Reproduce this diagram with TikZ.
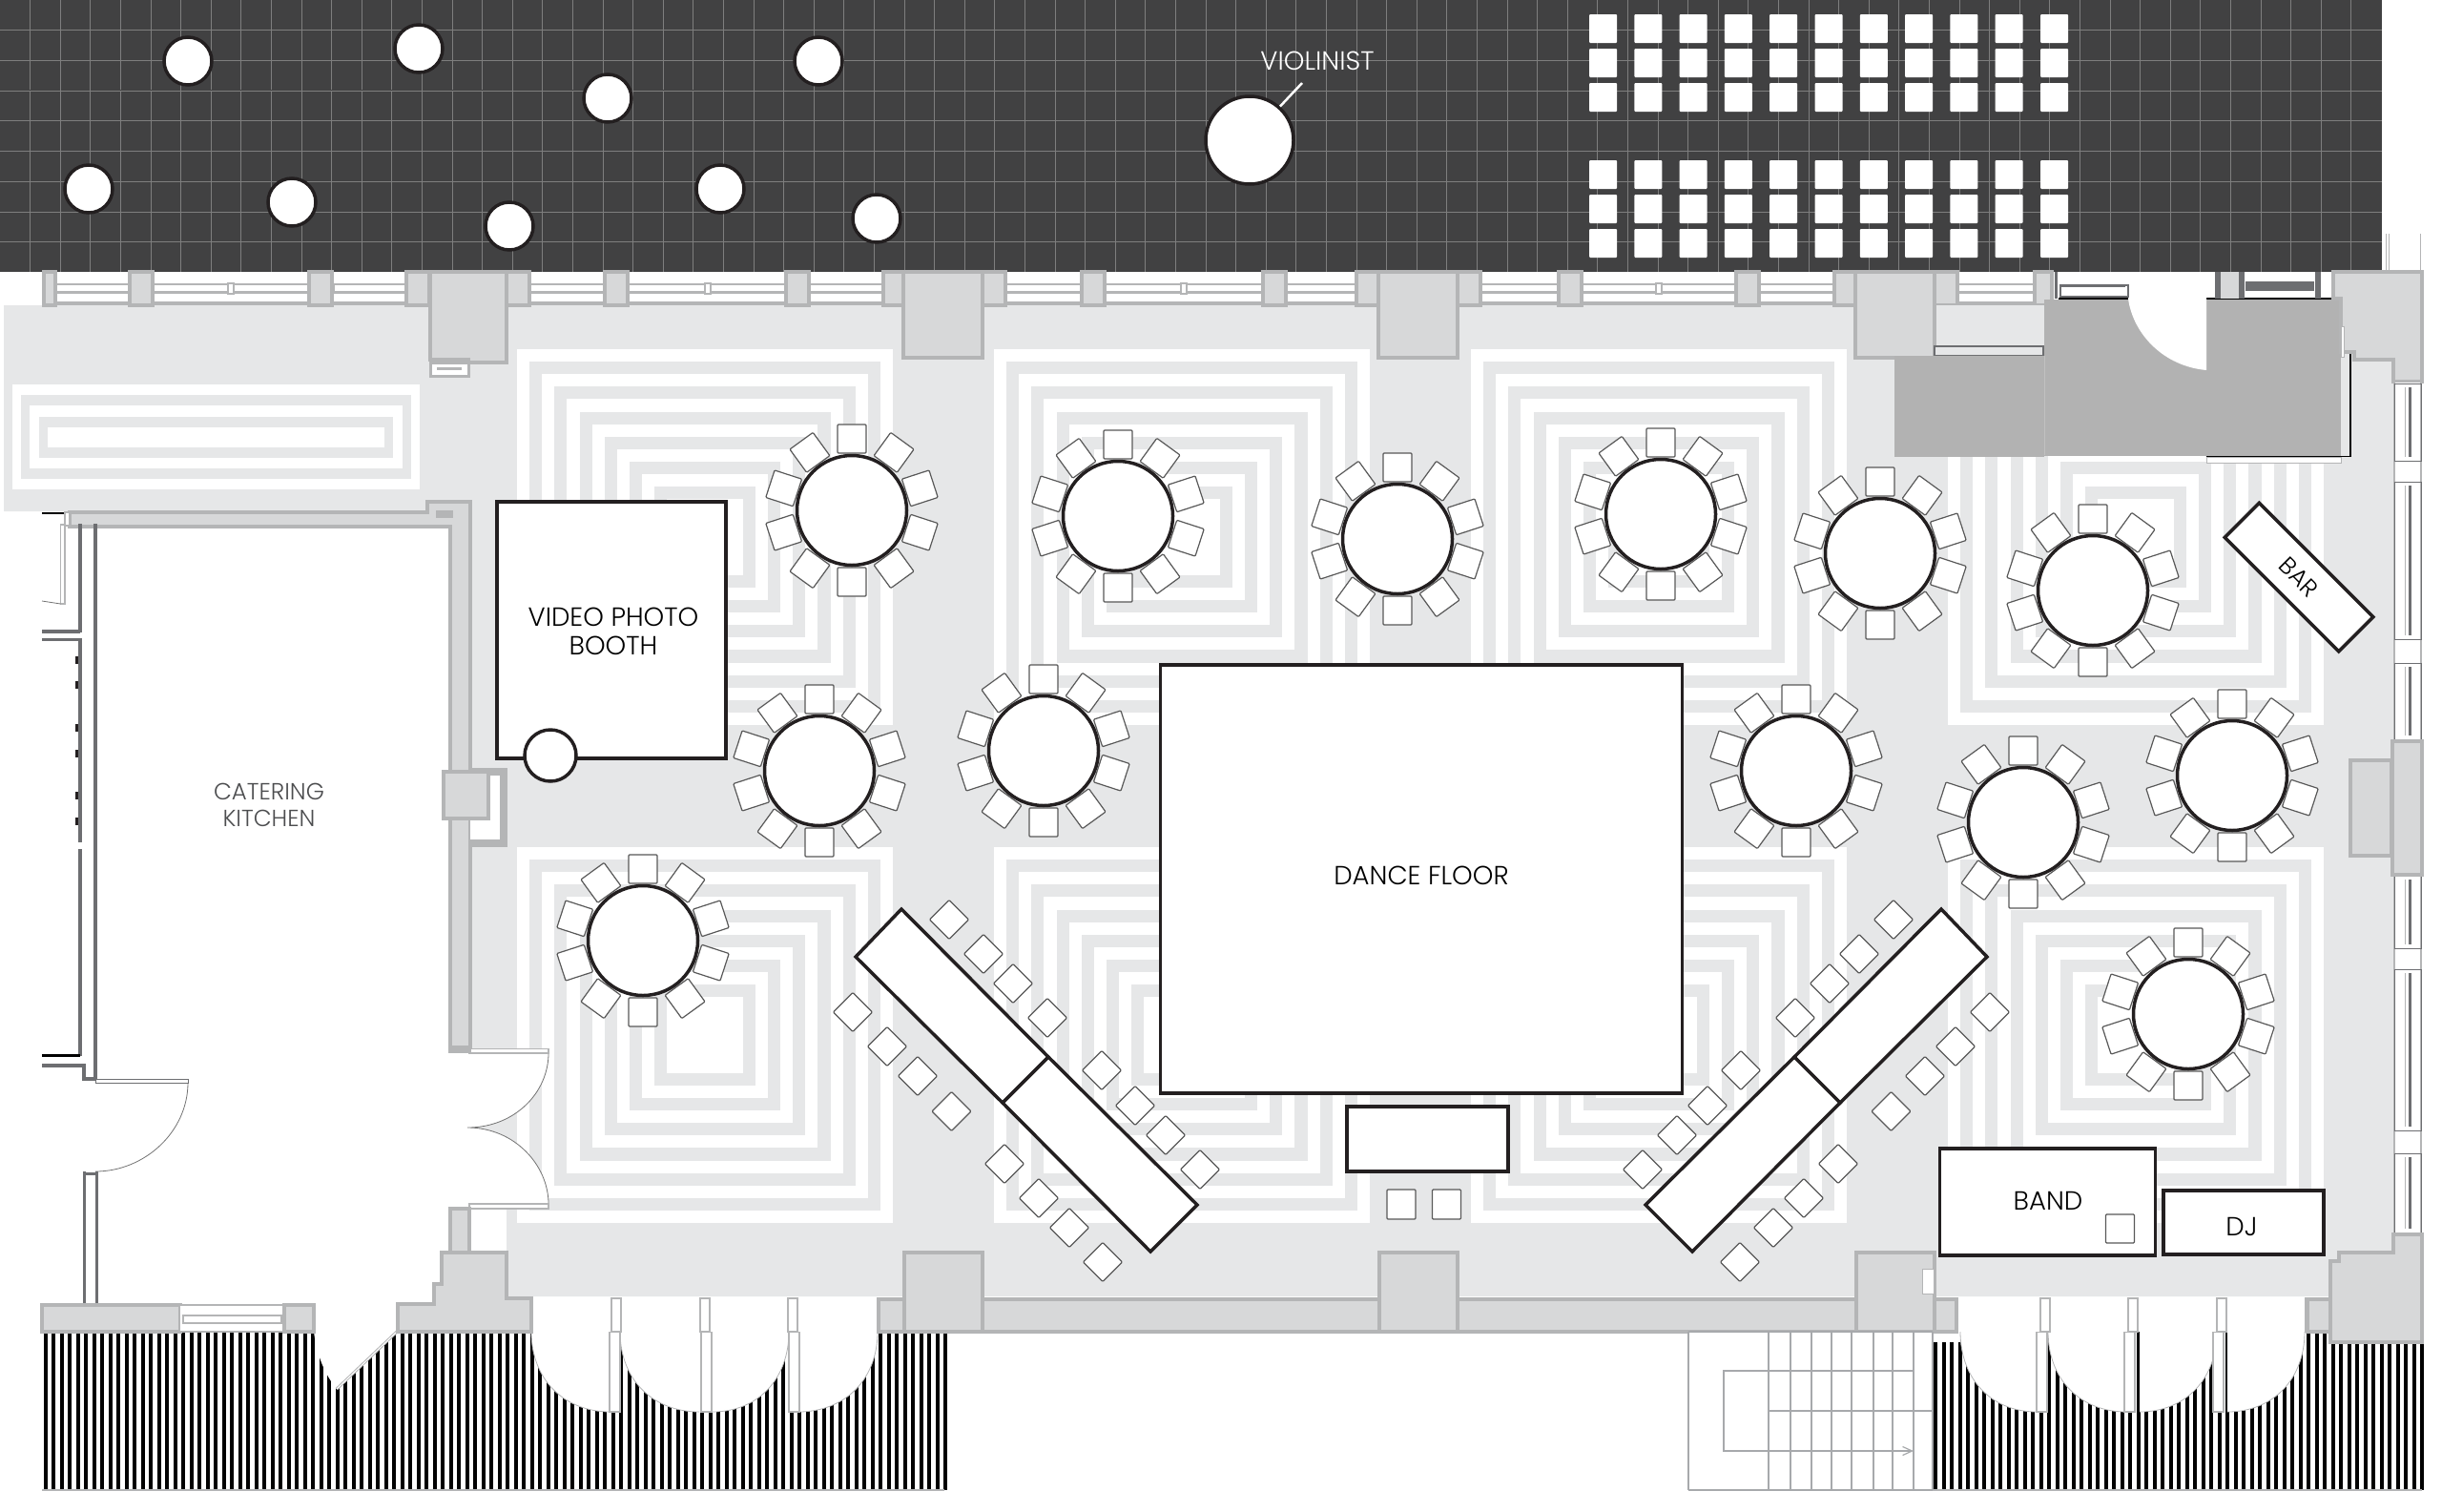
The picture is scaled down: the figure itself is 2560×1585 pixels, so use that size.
\documentclass[tikz,border=0pt]{standalone}
\usepackage{fontspec}
\setmainfont{Poppins}
\newfontfamily\lightfont{Poppins Light}
\usetikzlibrary{arrows.meta}
\definecolor{inkdark}{HTML}{231F20}
\definecolor{bandgray}{HTML}{414142}
\definecolor{gridgray}{HTML}{7E7E7E}
\definecolor{floorgray}{HTML}{E6E7E8}
\definecolor{wallfill}{HTML}{D7D8D9}
\definecolor{wallline}{HTML}{B4B5B6}
\definecolor{stagegray}{HTML}{B2B2B2}
\definecolor{thinwall}{HTML}{6D6E71}
\definecolor{stairline}{HTML}{A7A9AC}
\tikzstyle{wallbox} = [fill=wallfill,draw=wallline,line width=3.5pt,line join=miter]
\tikzstyle{thinbar} = [draw=thinwall,line width=3.5pt]
\tikzstyle{glass} = [draw=wallline,line width=2.2pt]
\tikzstyle{gridline} = [draw=gridgray,line width=0.8pt]
\tikzstyle{guest} = [circle,fill=white,draw=inkdark,line width=3.5pt,minimum size=50pt,inner sep=0pt]
\tikzstyle{seat} = [rectangle,fill=white,draw=black!65,line width=1.2pt,rounded corners=1pt,minimum size=30pt,inner sep=0pt]
\tikzstyle{block} = [rectangle,fill=white,rounded corners=1pt,minimum width=29pt,minimum height=30pt,inner sep=0pt]
\tikzstyle{tabletop} = [circle,fill=white,draw=inkdark,line width=3.5pt,minimum size=115pt,inner sep=0pt]
\tikzstyle{zone} = [rectangle,fill=white,draw=inkdark,line width=3.5pt,inner sep=0pt,align=center,text=black,font=\lightfont\fontsize{27.5}{30}\selectfont]
\tikzstyle{word} = [inner sep=0pt,align=center,text=black,font=\lightfont\fontsize{27.5}{30}\selectfont]
\tikzstyle{door} = [draw=black!55,line width=0.8pt]
\tikzstyle{stair} = [draw=stairline,line width=1.2pt]
\newcommand{\ringblock}[2]{%
  \foreach \k in {0,...,12}{%
    \ifodd\k \def\ringcol{floorgray}\else \def\ringcol{white}\fi
    \fill[\ringcol] ({#1+13.1*\k},{#2+13.1*\k}) rectangle ({#1+394-13.1*\k},{#2+394-13.1*\k});
  }}
\newcommand{\roundtable}[3]{%
  \coordinate (#1) at (#2,#3);
  \foreach \a [count=\i] in {90,54,18,-18,-54,-90,-126,-162,162,126}
    \node[seat,rotate=\a] (#1c\i) at ([shift={(\a:75pt)}]#1) {};
  \node[tabletop] (#1top) at (#1) {};}
\begin{document}
\begin{tikzpicture}[x=1pt,y=-1pt]
  \useasboundingbox (0,0) rectangle (2560,1585);

  % terrace
  \fill[bandgray] (0,0) rectangle (2497,285);
  \foreach \i in {1,...,78} \draw[gridline] ({\i*31.6},0) -- ({\i*31.6},285);
  \foreach \i in {1,...,8} \draw[gridline] (0,{\i*31.7}) -- (2497,{\i*31.7});
  \draw[bandgray,line width=1.2pt,dash pattern=on 4pt off 2pt] (29,94.6) -- (750,94.6);
  \draw[wallline,line width=1pt] (2501,245) -- (2501,285) (2504,245) -- (2504,285) (2537,245) -- (2537,285);
  \foreach \x/\y [count=\i] in {197/64,439/51,637/103,858/64,93/198,306/212,534/237,755/198,919/229}
    \node[guest] (g\i) at (\x,\y) {};
  \node[guest,minimum size=92pt] (vio) at (1310,147) {};
  \node[word,text=white] (viol) at (1381,64) {VIOLINIST};
  \coordinate (viot) at (1365,87);
  \draw[white,line width=2.5pt] (vio.48) -- (viot);
  \foreach \c in {0,...,10}
    \foreach \y [count=\r] in {30,66,102,183,219,255}
      \node[block] (b\c-\r) at ({1680.5+47.3*\c},\y) {};

  % floor
  \fill[floorgray] (4,320) -- (2509,320) -- (2509,1359) -- (531,1359) -- (531,1268) -- (492,1268) -- (492,536) -- (4,536) -- cycle;
  \foreach \x in {542,1042,1542,2042}
    \foreach \y in {366,888}{
      \ringblock{\x}{\y}
    }
  \foreach \k in {0,...,4}{
    \ifodd\k \def\ringcol{floorgray}\else \def\ringcol{white}\fi
    \fill[\ringcol] ({13+9.2*\k},{402.5+11.4*\k}) rectangle ({440-9.2*\k},{513-11*\k});
  }

  % north wall
  \fill[white] (44,285) rectangle (2446,320);
  \foreach \a/\b in {59/136,160/324,350/426,555/634,658/824,848/926,1054/1134,1158/1324,1348/1422,1552/1634,1658/1820,1844/1923,2052/2133}{
    \draw[glass] (\a,298) rectangle (\b,306.5);
    \draw[wallline,line width=3.5pt] (\a,318) -- (\b,318);
  }
  \foreach \c in {242,742,1241,1739} \draw[glass,fill=white] (\c-3,297) rectangle (\c+3,308);
  \foreach \x in {136,324,426,531,634,824,926,1030,1134,1324,1422,1528,1634,1820,1923,2028}
    \draw[wallbox] (\x,285) rectangle (\x+24,320);
  \draw[wallbox] (46,285) rectangle (58,320);
  \draw[wallbox] (2133,285) rectangle (2151,320);
  \foreach \x in {947,1445,1945} \draw[wallbox] (\x,285) rectangle (\x+83,375);
  \draw[wallbox] (451,285) -- (531,285) -- (531,380) -- (491,380) -- (491,377) -- (451,377) -- cycle;
  \draw[wallline,fill=white,line width=3pt] (451,380) rectangle (491,394);
  \draw[wallline,line width=3pt] (458,386) -- (484,386);
  \draw[floorgray,fill=floorgray] (2030,320) rectangle (2142,363);
  \draw[thinwall,line width=1.5pt,fill=floorgray] (2028,363) rectangle (2142,373);

  % stage block and door swing
  \fill[stagegray] (1986,373) rectangle (2143,478.5);
  \fill[stagegray] (2143,313.5) rectangle (2454,477.5);
  \draw[black,line width=1.5pt] (2158,313) -- (2231,313) (2313,313) -- (2447,313);
  \draw[black,line width=1.5pt] (2454,369) -- (2464,369) -- (2464,478.5) -- (2313,478.5);
  \fill[floorgray] (2454,369) rectangle (2463,478);
  \draw[wallline,fill=white,line width=0.8pt] (2313,479) rectangle (2454,485);
  \fill[white] (2231,285) -- (2231,313) .. controls (2236,350) and (2268,384) .. (2313,388) -- (2313,285) -- cycle;
  \draw[stagegray!80,line width=1pt] (2143,373) -- (2143,477);
  \draw[glass,draw=thinwall,line width=1.5pt] (2160,299) rectangle (2231,311);
  \draw[thinwall,line width=3pt] (2155,285) -- (2155,313);
  \draw[thinwall,line width=3pt] (2160,299) -- (2228,299);
  \foreach \x in {2325,2350,2430} \draw[thinwall,line width=6pt] (\x,285) -- (\x,313);
  \fill[wallfill] (2328,285) rectangle (2347,313);
  \fill[thinwall] (2354,295) rectangle (2426,305);
  \draw[wallbox] (2446,285) -- (2539,285) -- (2539,400) -- (2509,400) -- (2509,377) -- (2468,377) -- (2468,369) -- (2454,369) -- (2454,313) -- (2446,313) -- cycle;
  \draw[wallline,fill=white,line width=0.8pt] (2454,342) rectangle (2457,374);

  % east wall
  \draw[glass,fill=white,line width=1.5pt] (2510,400) rectangle (2538,1294);
  \foreach \a/\b in {402/483,505/670,695/775,918/994,1016/1185,1209/1292}{
    \draw[glass,draw=thinwall,line width=1pt] (2510,\a) rectangle (2538,\b);
    \draw[thinwall,line width=3pt] (2526,\a+4) -- (2526,\b-4);
    \draw[wallline,line width=1pt] (2521,\a+4) -- (2521,\b-4);
  }
  \draw[wallbox] (2464,797) rectangle (2507,897);
  \draw[wallbox] (2508,777) rectangle (2539,917);

  % kitchen walls
  \draw[wallbox] (73,537) -- (448,537) -- (448,526) -- (493,526) -- (493,1098) -- (472,1098) -- (472,552) -- (73,552) -- cycle;
  \fill[wallline] (457,535) rectangle (475,543);
  \fill[white] (493,813) rectangle (524,880);
  \draw[wallline,line width=8pt] (493,809) -- (528,809) -- (528,884) -- (493,884);
  \draw[wallbox] (465,809) rectangle (512,858);
  \draw[thinbar] (84,549) -- (84,663) (84,669) -- (84,883) (84,890) -- (84,1107);
  \draw[thinbar] (100,549) -- (100,1132);
  \draw[thinbar] (44,662) -- (84,662) (44,670.5) -- (84,670.5) (44,1117) -- (88,1117) -- (88,1131) -- (100,1131);
  \draw[black,line width=3pt] (44,1106) -- (84,1106);
  \draw[black,line width=1.5pt] (44,538) -- (68,538);
  \draw[glass,fill=white,line width=1.5pt] (68,537) rectangle (73,551);
  \draw[glass,line width=1.5pt] (63.5,550) rectangle (68,633);
  \draw[door] (44,630) -- (63.5,633);
  \foreach \y in {692,718,763,790,834,861} \fill[inkdark] (79,\y-4) rectangle (82,\y+4);
  \node[word,text=thinwall!70!black,font=\lightfont\fontsize{24.5}{28}\selectfont] (kitchen) at (282,844) {CATERING\\KITCHEN};

  % kitchen door and double doors
  \draw[glass,draw=thinwall,line width=1pt,fill=white] (100,1131) rectangle (197,1135);
  \draw[door] (197,1135) .. controls (197,1186) and (152,1228) .. (100,1228);
  \draw[thinwall,line width=3pt] (88,1228) -- (88,1367) (101,1228) -- (101,1367) (88,1230) -- (101,1230);
  \fill[white] (492,1100) -- (575,1100) -- (575,1104) .. controls (575,1145) and (540,1182) .. (490,1182) .. controls (540,1182) and (575,1222) .. (575,1262) -- (575,1267) -- (492,1267) -- cycle;
  \draw[door] (575,1104) .. controls (575,1145) and (540,1182) .. (490,1182) .. controls (540,1182) and (575,1222) .. (575,1262);
  \draw[wallbox,fill=white,line width=1.5pt] (492,1099.5) rectangle (575,1104);
  \draw[wallbox,fill=white,line width=1.5pt] (492,1262) rectangle (575,1267);
  \draw[wallbox] (472,1098) rectangle (492,1102);
  \draw[wallbox] (472,1267) rectangle (492,1313);

  % hatching outside
  \foreach \i in {0,...,111} \draw[black,line width=4pt] ({47.7+8.5*\i},1396) -- ({47.7+8.5*\i},1562);
  \foreach \i in {0,...,60} \draw[black,line width=4pt] ({2029+8.5*\i},1396) -- ({2029+8.5*\i},1562);
  \draw[wallline,line width=2pt] (44,1562) -- (990,1562) (2026,1562) -- (2539,1562);
  \fill[white] (329,1396) .. controls (332,1420) and (340,1440) .. (353,1456) -- (416,1396) -- cycle;
  \draw[wallline,line width=3pt] (353,1456) -- (416,1396);
  \draw[white,line width=1pt] (353,1456) -- (416,1396);
  \fill[white] (2024,1396) rectangle (2056,1407);
  \foreach \a/\b/\c in {557/640/640,650/733/733,827/747/747,920/837/837,2055/2135/2135,2147/2229/2229,2324/2243/2243,2416/2335/2335}{
    \fill[white] (\a,1396) .. controls (\a,1445) and ({\a+(\b-\a)*0.4},1480) .. (\b,1480) -- (\c,1396) -- cycle;
    \draw[wallline,line width=0.8pt] (\a,1396) .. controls (\a,1445) and ({\a+(\b-\a)*0.4},1480) .. (\b,1480);
  }
  \foreach \x in {639,735,827,2135,2227,2320} \draw[glass,fill=white,line width=1.5pt] (\x,1396) rectangle (\x+11,1480);

  % south wall
  \fill[white] (557,1361) rectangle (921,1396);
  \fill[white] (2051,1361) rectangle (2443,1396);
  \foreach \x in {641,734,826,2139,2231,2324,2417} \draw[glass,fill=white,line width=1.5pt] (\x,1361) rectangle (\x+10,1396);
  \draw[wallbox] (44,1368) rectangle (189,1396);
  \fill[white] (189,1368) rectangle (298,1396);
  \draw[glass] (189,1368) -- (298,1368) (189,1396) -- (298,1396);
  \draw[glass] (192,1379) rectangle (295,1387);
  \draw[wallbox] (298,1368) rectangle (329,1396);
  \draw[wallbox] (417,1396) -- (417,1367) -- (455,1367) -- (455,1346) -- (463,1346) -- (463,1313) -- (531,1313) -- (531,1361) -- (557,1361) -- (557,1396) -- cycle;
  \draw[wallbox] (921,1362) rectangle (2051,1396);
  \foreach \x in {948,1446,1946} \draw[wallbox] (\x,1313) rectangle (\x+82,1396);
  \draw[wallbox] (2419,1362) rectangle (2443,1396);
  \draw[wallbox] (2443,1322) -- (2452,1322) -- (2452,1313) -- (2509,1313) -- (2509,1294) -- (2539,1294) -- (2539,1407) -- (2443,1407) -- cycle;
  \draw[wallline,fill=white,line width=1pt] (2015,1330) rectangle (2027,1356);

  % stairs
  \fill[white] (1770,1396) rectangle (2026,1562);
  \foreach \x in {1770,1854,1877,1899,1920,1941,1964,1984,2006,2026} \draw[stair] (\x,1396) -- (\x,1562);
  \draw[stair] (1770,1396) -- (2026,1396);
  \draw[stair,line width=2pt] (1770,1562) -- (2026,1562);
  \draw[stair] (2006,1437) -- (1807,1437) -- (1807,1521) -- (1854,1521);
  \draw[stair] (1854,1479) -- (2026,1479);
  \coordinate (stairtip) at (2006,1521);
  \draw[stair,-{Straight Barb[length=10pt,width=9pt]}] (1854,1521) -- (stairtip);

  % tables
  \roundtable{t1}{893}{535}
  \roundtable{t2}{1172}{541}
  \roundtable{t3}{1465}{565}
  \roundtable{t4}{1741}{539}
  \roundtable{t5}{1971}{580}
  \roundtable{t6}{2194}{619}
  \roundtable{t7}{859}{808}
  \roundtable{t8}{1094}{787}
  \roundtable{t9}{674}{986}
  \roundtable{t10}{1883}{808}
  \roundtable{t11}{2121}{862}
  \roundtable{t12}{2340}{813}
  \roundtable{t13}{2294}{1063}

  % labelled zones
  \node[zone,minimum width=240pt,minimum height=269pt] (booth) at (641,660.5) {};
  \node[word] (boothl) at (643,662) {VIDEO PHOTO\\BOOTH};
  \node[guest,minimum size=54pt] (stool) at (577,792) {};
  \node[zone,minimum width=547pt,minimum height=449pt] (dance) at (1490,921.5) {};
  \node[word] (dancel) at (1490,918) {DANCE FLOOR};
  \node[zone,minimum width=169pt,minimum height=68pt] (head) at (1496.5,1194) {};
  \node[seat,minimum width=30pt,minimum height=31pt] (hs1) at (1469,1262.5) {};
  \node[seat,minimum width=30pt,minimum height=31pt] (hs2) at (1516.5,1262.5) {};
  \node[zone,minimum width=226pt,minimum height=112pt] (band) at (2146.5,1260) {};
  \node[word] (bandl) at (2147,1259) {BAND};
  \node[seat,minimum width=30pt,minimum height=30pt] (bs1) at (2222.5,1288) {};
  \node[zone,minimum width=168pt,minimum height=67pt] (dj) at (2352,1281.5) {};
  \node[word] (djl) at (2350,1286) {DJ};
  \node[zone,minimum width=169pt,minimum height=51pt,rotate=-45,font=\lightfont\fontsize{25}{28}\selectfont] (bar) at (2410,605) {BAR};

  % buffet tables
  \draw[zone,fill=white] (945,953) -- (897,1003) -- (1051,1156) -- (1099,1108) -- cycle;
  \draw[zone,fill=white] (1099,1108) -- (1051,1156) -- (1206,1312) -- (1255,1263) -- cycle;
  \draw[zone,fill=white] (2035,953) -- (2083,1003) -- (1929,1156) -- (1881,1108) -- cycle;
  \draw[zone,fill=white] (1881,1108) -- (1929,1156) -- (1774,1312) -- (1725,1263) -- cycle;
  \foreach \x/\y [count=\i] in {995/964,1031/1000,1062/1031,1098/1067,894/1061,930/1097,962/1128,997.5/1165,1155/1122,1190/1159,1222/1190,1258/1226,1053/1220,1089/1256,1121/1287,1156/1323}{
    \node[seat,rotate=45,minimum size=29pt] (bl\i) at (\x,\y) {};
    \node[seat,rotate=45,minimum size=29pt] (br\i) at (2980-\x,\y) {};
  }
\end{tikzpicture}
\end{document}
